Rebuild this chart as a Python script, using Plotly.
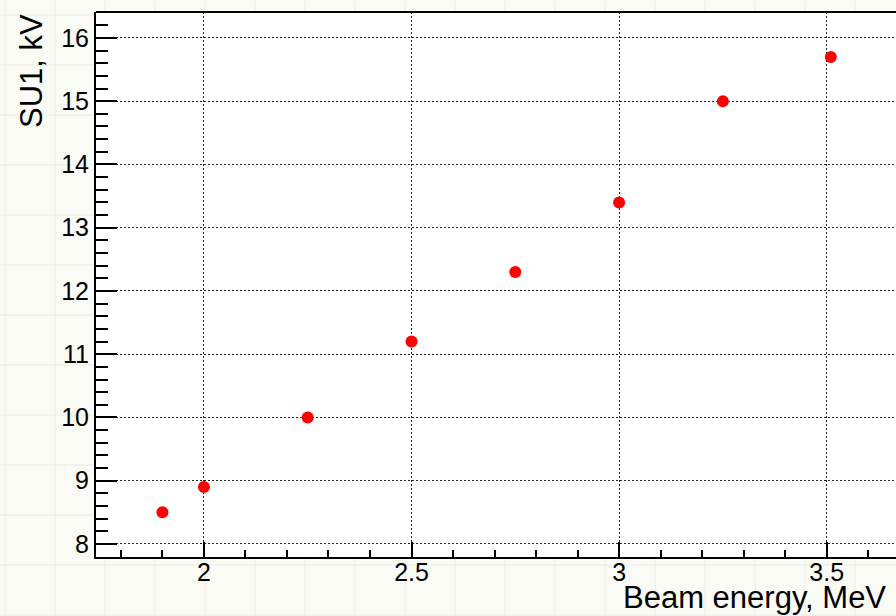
import plotly.graph_objects as go

# Data
beam_energy = [1.9, 2.0, 2.25, 2.5, 2.75, 3.0, 3.25, 3.51]
su1_kv = [8.5, 8.9, 10.0, 11.2, 12.3, 13.4, 15.0, 15.7]
x_ticks = [2, 2.5, 3, 3.5]
x_tick_labels = ["2", "2.5", "3", "3.5"]
y_ticks = [8, 9, 10, 11, 12, 13, 14, 15, 16]
y_tick_labels = ["8", "9", "10", "11", "12", "13", "14", "15", "16"]

W, H = 896, 616
L, R, T, B = 96, 0, 12, 59
PW, PH = W - L - R, H - T - B

def px2u(px):
    return (px - L) / PW

def py2v(py):
    return (H - B - py) / PH

FONT = "Liberation Sans, Arial, Helvetica, sans-serif"

fig = go.Figure()
fig.add_trace(go.Scatter(
    x=beam_energy, y=su1_kv, mode="markers",
    marker=dict(color="#ff0000", size=12, line=dict(width=0)),
    showlegend=False, cliponaxis=False,
))

shapes = []
# faint background "paper" grid lines
line_col = "#ebebe3"
for gx in range(5, W, 50):
    shapes.append(dict(type="line", xref="paper", yref="paper",
                       x0=px2u(gx), x1=px2u(gx), y0=py2v(0), y1=py2v(H),
                       line=dict(color=line_col, width=1), layer="below"))
for gy in range(15, H, 50):
    shapes.append(dict(type="line", xref="paper", yref="paper",
                       x0=px2u(0), x1=px2u(W), y0=py2v(gy), y1=py2v(gy),
                       line=dict(color=line_col, width=1), layer="below"))
# white plot area
shapes.append(dict(type="rect", xref="paper", yref="paper", x0=0, x1=1.01, y0=0, y1=1,
                   fillcolor="white", line=dict(width=0), layer="below"))
# top frame line
shapes.append(dict(type="line", xref="paper", yref="paper", x0=0, x1=1.01, y0=1, y1=1,
                   line=dict(color="black", width=2), layer="above"))

fig.update_layout(
    width=W, height=H,
    margin=dict(l=L, r=R, t=T, b=B, pad=0),
    paper_bgcolor="#fbfbf6",
    plot_bgcolor="white",
    font=dict(family=FONT, color="black", size=25),
    shapes=shapes,
    xaxis=dict(
        range=[1.74, 3.667],
        tickvals=x_ticks, ticktext=x_tick_labels,
        ticks="inside", ticklen=15, tickwidth=1.5, tickcolor="black",
        ticklabelstandoff=-8,
        showline=True, linecolor="black", linewidth=2,
        showgrid=True, gridcolor="#222", gridwidth=1, griddash="2px,2px",
        zeroline=False,
        minor=dict(dtick=0.1, tick0=0, ticks="inside", ticklen=7, tickwidth=1.5,
                   tickcolor="black", showgrid=False),
        tickfont=dict(size=25, family=FONT),
    ),
    yaxis=dict(
        range=[7.794, 16.41],
        tickvals=y_ticks, ticktext=y_tick_labels,
        ticks="inside", ticklen=21, tickwidth=1.5, tickcolor="black",
        showline=True, linecolor="black", linewidth=2,
        showgrid=True, gridcolor="#222", gridwidth=1, griddash="2px,2px",
        zeroline=False,
        minor=dict(dtick=0.2, tick0=0, ticks="inside", ticklen=12, tickwidth=1.5,
                   tickcolor="black", showgrid=False),
        tickfont=dict(size=25, family=FONT),
    ),
    annotations=[
        dict(text="Beam energy, MeV", xref="paper", yref="paper",
             x=px2u(888), y=py2v(617), xanchor="right", yanchor="bottom",
             showarrow=False, font=dict(size=31, family=FONT)),
        dict(text="SU1, kV", xref="paper", yref="paper", textangle=-90,
             x=px2u(31), y=py2v(12), xanchor="center", yanchor="top",
             showarrow=False, font=dict(size=31, family=FONT)),
    ],
)

fig.write_html("out.html")
